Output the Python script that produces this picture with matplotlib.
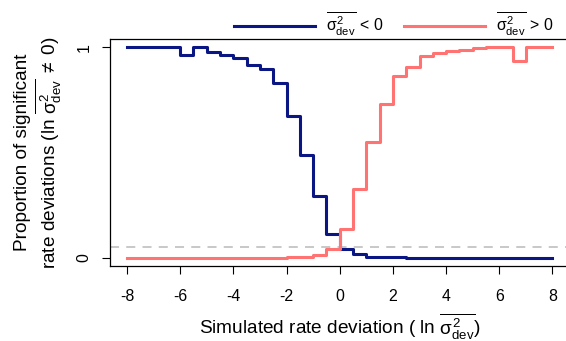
import matplotlib
matplotlib.use("Agg")
import matplotlib.pyplot as plt

plt.rcParams["font.family"] = ["Liberation Sans", "DejaVu Sans"]
plt.rcParams["mathtext.fontset"] = "custom"
plt.rcParams["mathtext.rm"] = "Liberation Sans"
plt.rcParams["mathtext.it"] = "Liberation Sans"
plt.rcParams["mathtext.bf"] = "Liberation Sans:bold"

# simulated rate deviation grid (ln sigma^2_dev)
rate_dev = [-8.0, -7.5, -7.0, -6.5, -6.0, -5.5, -5.0, -4.5, -4.0, -3.5, -3.0,
            -2.5, -2.0, -1.5, -1.0, -0.5, 0.0, 0.5, 1.0, 1.5, 2.0, 2.5,
            3.0, 3.5, 4.0, 4.5, 5.0, 5.5, 6.0, 6.5, 7.0, 7.5, 8.0]

# proportion of significant negative deviations
prop_neg = [1.0, 1.0, 1.0, 1.0, 0.964, 1.0, 0.98, 0.965, 0.951, 0.915, 0.897,
            0.831, 0.675, 0.488, 0.295, 0.112, 0.041, 0.017, 0.005, 0.002, 0.001, 0.0,
            0.0, 0.0, 0.0, 0.0, 0.0, 0.0, 0.0, 0.0, 0.0, 0.0, 0.0]

# proportion of significant positive deviations
prop_pos = [0.0, 0.0, 0.0, 0.0, 0.0, 0.0, 0.0, 0.0, 0.0, 0.0, 0.0,
            0.0, 0.002, 0.005, 0.012, 0.042, 0.135, 0.327, 0.55, 0.731, 0.866, 0.908,
            0.96, 0.973, 0.984, 0.987, 0.998, 1.0, 1.0, 0.937, 1.0, 1.0, 1.0]

alpha_level = 0.05

x_ticks = [-8, -6, -4, -2, 0, 2, 4, 6, 8]
y_ticks = [0, 1]

sig = r"\overline{\sigma^2_{\rm dev}}"

fig = plt.figure(figsize=(5.66, 3.41), dpi=100)
ax = fig.add_axes([110 / 566, 75 / 341, 459.5 / 566, 227 / 341])

ax.axhline(alpha_level, color="#c4c4c4", lw=1.3, ls=(0, (5, 4)))
ax.plot(rate_dev, prop_neg, drawstyle="steps-post", color="#0a1683", lw=2.2,
        label=f"${sig}\\,<\\,0$")
ax.plot(rate_dev, prop_pos, drawstyle="steps-post", color="#ff7373", lw=2.2,
        label=f"${sig}\\,>\\,0$")

ax.set_xlim(-8.64, 8.64)
ax.set_ylim(-0.04, 1.04)
ax.set_xticks(x_ticks)
ax.set_xticklabels([str(t) for t in x_ticks])
ax.set_yticks(y_ticks)
ax.set_yticklabels([str(t) for t in y_ticks], rotation=90, va="center")

for s in ax.spines.values():
    s.set_linewidth(0.9)
ax.tick_params(axis="both", length=5.5, width=0.8, labelsize=11.4)
ax.tick_params(axis="x", pad=11)
ax.tick_params(axis="y", pad=8)

ax.set_xlabel(f"Simulated rate deviation ( ln ${sig}$)", fontsize=13.7, labelpad=5)
ax.set_ylabel(f"Proportion of significant\nrate deviations (ln ${sig}\\;\\neq\\;0$)",
              fontsize=13.7, labelpad=9, linespacing=1.1)

ax.legend(loc="center", bbox_to_anchor=(0.617, 1.066), ncol=2, frameon=False,
          fontsize=11.4, handlelength=5.1, handletextpad=0.7, columnspacing=1.3,
          borderaxespad=0)

fig.savefig("out.png", dpi=100)
